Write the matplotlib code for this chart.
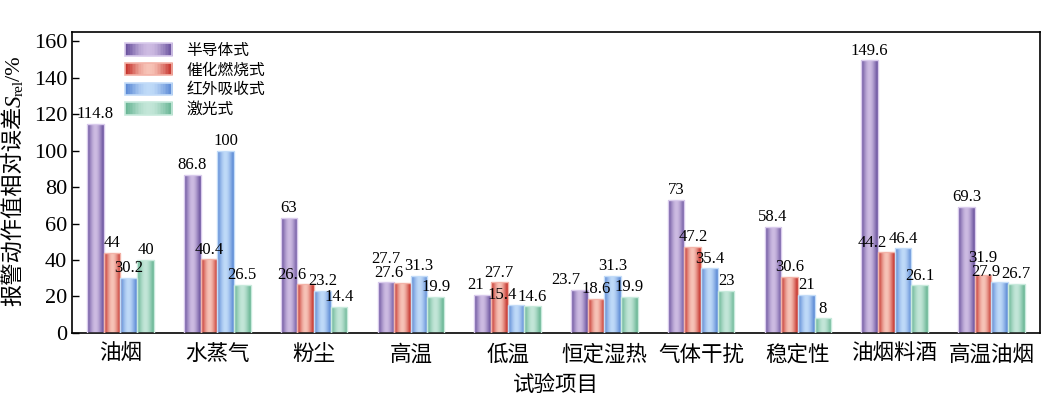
import numpy as np
import matplotlib
matplotlib.use("Agg")
import matplotlib.pyplot as plt
from matplotlib.colors import LinearSegmentedColormap
from matplotlib.legend_handler import HandlerBase
from matplotlib.patches import Rectangle, Patch
from matplotlib.transforms import IdentityTransform

plt.rcParams['font.family'] = ['Liberation Serif', 'Noto Sans CJK SC']

# ====== DATA ======
categories = ["油烟", "水蒸气", "粉尘", "高温", "低温", "恒定湿热", "气体干扰", "稳定性", "油烟料酒", "高温油烟"]
series_names = ["半导体式", "催化燃烧式", "红外吸收式", "激光式"]
semiconductor = [114.8, 86.8, 63, 27.7, 21, 23.7, 73, 58.4, 149.6, 69.3]
catalytic = [44, 40.4, 26.6, 27.6, 27.7, 18.6, 47.2, 30.6, 44.2, 31.9]
infrared = [30.2, 100, 23.2, 31.3, 15.4, 31.3, 35.4, 21, 46.4, 27.9]
laser = [40, 26.5, 14.4, 19.9, 14.6, 19.9, 23, 8, 26.1, 26.7]
y_ticks = [0, 20, 40, 60, 80, 100, 120, 140, 160]

# dark edge / light centre / outline
palette = [
    ("#6a529e", "#cdbbe2", "#d9cbec"),
    ("#c5322b", "#f7c3b7", "#f3b3a8"),
    ("#5b89d5", "#bfdaf8", "#c3dcf8"),
    ("#68b594", "#c3e6d8", "#c8eadc"),
]

u = np.linspace(0, 1, 64)
profile = np.sin(np.pi * u) ** 1.3


def gradient_cmap(dark, light):
    return LinearSegmentedColormap.from_list("g", [dark, light])


class GradientHandler(HandlerBase):
    def __init__(self, dark, light, edge):
        super().__init__()
        self.dark, self.light, self.edge = dark, light, edge

    def create_artists(self, legend, orig_handle, xdescent, ydescent,
                       width, height, fontsize, trans):
        cmap = gradient_cmap(self.dark, self.light)
        n = 30
        arts = []
        for i in range(n):
            t = np.sin(np.pi * (i + 0.5) / n) ** 1.3
            r = Rectangle((-xdescent + width * i / n, -ydescent), width / n + 0.3, height,
                          facecolor=cmap(t), edgecolor='none', transform=trans)
            arts.append(r)
        arts.append(Rectangle((-xdescent, -ydescent), width, height, facecolor='none',
                              edgecolor=self.edge, lw=1.2, transform=trans))
        return arts


fig = plt.figure(figsize=(10.45, 3.94), dpi=100)
ax = fig.add_axes([0.069, 0.155, 0.926, 0.763])

all_series = [semiconductor, catalytic, infrared, laser]
x = np.arange(len(categories))
w = 0.172
labels = [[None] * 4 for _ in categories]
for k, vals in enumerate(all_series):
    dark, light, edge = palette[k]
    cmap = gradient_cmap(dark, light)
    xs = x + (k - 1.5) * w
    bars = ax.bar(xs, vals, width=w, facecolor='none', edgecolor=edge, lw=1.0, zorder=3)
    for g, (rect, v) in enumerate(zip(bars, vals)):
        x0 = rect.get_x()
        im = ax.imshow(profile[np.newaxis, :], cmap=cmap, vmin=0, vmax=1,
                       extent=[x0, x0 + w, 0, v], aspect='auto', zorder=2,
                       interpolation='bilinear')
        im.set_clip_path(rect)
        labels[g][k] = ax.text(x0 + w / 2, v + 1.0, f"{v:g}", ha='center', va='bottom',
                               fontsize=12, zorder=4)

ax.set_xlim(-0.5, 9.5)
ax.set_ylim(0, 165)
ax.set_yticks(y_ticks)
ax.tick_params(axis='y', direction='in', length=5, labelsize=16, width=1)
ax.set_xticks(x)
ax.set_xticklabels(categories, fontsize=15.5)
ax.tick_params(axis='x', length=0, pad=9)
for sp in ax.spines.values():
    sp.set_linewidth(1.2)

ax.set_xlabel("试验项目", fontsize=15.5, labelpad=7)

handles = [Patch() for _ in series_names]
handler_map = {h: GradientHandler(*palette[i]) for i, h in enumerate(handles)}
ax.legend(handles, series_names, handler_map=handler_map, loc='upper left',
          bbox_to_anchor=(0.055, 0.965), frameon=False, fontsize=11.3,
          handlelength=3.0, handleheight=0.85, labelspacing=0.24,
          handletextpad=0.9, borderpad=0, borderaxespad=0)

renderer = fig.canvas.get_renderer()

# nudge crowded value labels: shift left a bit, or lift above the right neighbour
inv = ax.transData.inverted()
for group in labels:
    for k in range(2, -1, -1):
        t, nb_t = group[k], group[k + 1]
        bb = t.get_window_extent(renderer)
        nb = nb_t.get_window_extent(renderer)
        if not bb.overlaps(nb):
            continue
        tx, ty = t.get_position()
        px, py = ax.transData.transform((tx, ty))
        need = bb.x1 - nb.x0 + 1
        if need <= bb.width * 0.5:
            px -= need
        else:
            py += nb.y1 - bb.y0 - 2
        t.set_position(tuple(inv.transform((px, py))))

# y label built from pieces: CJK text + italic S + subscript rel + /%
xc = 15
pieces = [
    ("报警动作值相对误差", dict(fontsize=16), 0),
    ("S", dict(fontsize=16.5, style='italic'), 0),
    ("rel", dict(fontsize=11), 4),
    ("/%", dict(fontsize=16), 0),
]
texts = []
y = 0
for s, kw, dx in pieces:
    t = fig.text(xc + dx, y, s, rotation=90, ha='center', va='bottom',
                 transform=IdentityTransform(), **kw)
    bb = t.get_window_extent(renderer)
    texts.append((t, xc + dx, y))
    y = bb.y1 - 1
span = y
shift = (394 - 182) - span / 2
for t, tx, ty in texts:
    t.set_position((tx, ty + shift))

plt.savefig("out.png", dpi=100)
